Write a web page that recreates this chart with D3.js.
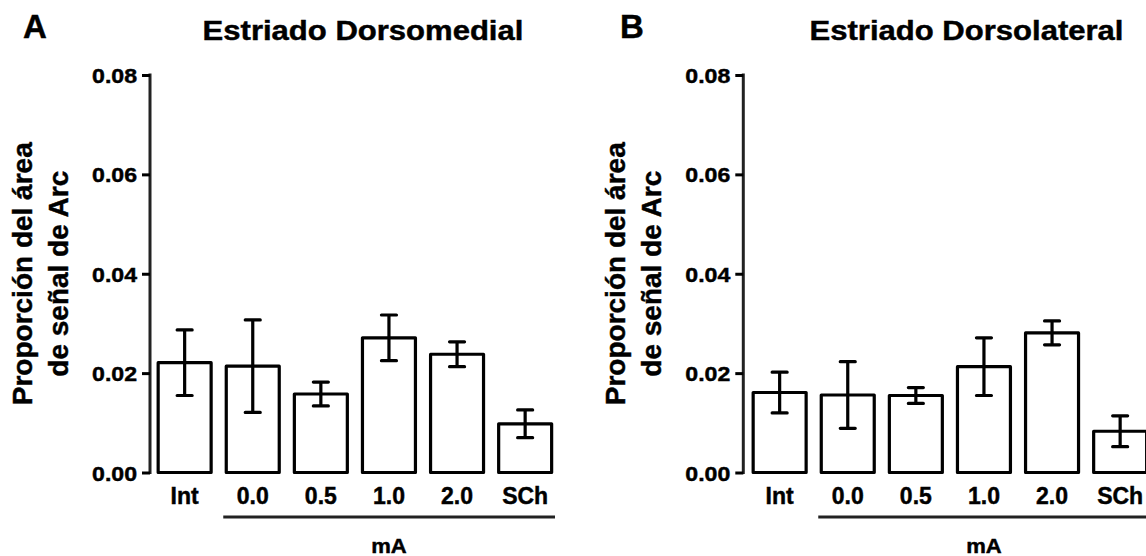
<!DOCTYPE html>
<html>
<head>
<meta charset="utf-8">
<script src="https://cdn.jsdelivr.net/npm/d3@7/dist/d3.min.js"></script>
<style>
  html, body { margin: 0; padding: 0; background: #fff; }
  svg { display: block; }
  text { font-family: "Liberation Sans", Arial, sans-serif; font-weight: bold; fill: #000; stroke: #000; stroke-width: 0.45px; }
</style>
</head>
<body>
<svg id="chart" width="1146" height="556"></svg>
<script>
// ---------------- data ----------------
const categories = ["Int", "0.0", "0.5", "1.0", "2.0", "SCh"];
const dorsomedialMean = [0.0221, 0.0214, 0.0158, 0.0271, 0.0238, 0.0098];
const dorsomedialSem  = [0.0066, 0.0093, 0.0024, 0.0046, 0.0025, 0.0028];
const dorsolateralMean = [0.0161, 0.0156, 0.0155, 0.0213, 0.0281, 0.0083];
const dorsolateralSem  = [0.0041, 0.0067, 0.0016, 0.0058, 0.0024, 0.0031];
const yTicks = [0.00, 0.02, 0.04, 0.06, 0.08];
const panelLetters = ["A", "B"];
const panelTitles = ["Estriado Dorsomedial", "Estriado Dorsolateral"];
const yLabelLines = ["Proporción del área", "de señal de Arc"];
const groupLabel = "mA";
const groupCategories = ["0.0", "0.5", "1.0", "2.0", "SCh"];

// ---------------- layout ----------------
const svg = d3.select("#chart");
const panels = [
  { axisX: 150,   bandX0: 150.6, letterX: 35,  titleX: 363,   lineEnd: 555,  mean: dorsomedialMean, sem: dorsomedialSem },
  { axisX: 743.3, bandX0: 745.6, letterX: 632, titleX: 966.5, lineEnd: 1150, mean: dorsolateralMean, sem: dorsolateralSem }
];
const step = 68.1;
const y = d3.scaleLinear().domain([0, 0.08]).range([472.5, 75]);
const fmt = d3.format(".2f");

function stretchedText(g, x, yPos, txt, size, sx, anchor, rotate) {
  return g.append("text")
    .attr("transform", `translate(${x},${yPos})` + (rotate ? ` rotate(${rotate})` : "") + ` scale(${sx},1)`)
    .attr("text-anchor", anchor || "middle")
    .style("font-size", size + "px")
    .text(txt);
}

panels.forEach((p, i) => {
  const g = svg.append("g");
  const x = d3.scaleBand()
    .domain(categories)
    .range([p.bandX0, p.bandX0 + step * categories.length])
    .paddingInner(0.222)
    .paddingOuter(0.111);

  // panel letter & title
  stretchedText(g, p.letterX, 38, panelLetters[i], 33, 1.0, "middle");
  stretchedText(g, p.titleX, 40, panelTitles[i], 27, 1.15, "middle");

  // y axis
  const yAxis = d3.axisLeft(y).tickValues(yTicks).tickFormat(fmt).tickSizeInner(8).tickSizeOuter(0).tickPadding(5);
  const ya = g.append("g").attr("transform", `translate(${p.axisX},0)`).call(yAxis);
  ya.select(".domain").attr("stroke", "#222").attr("stroke-width", 3).attr("d", `M0,${y(0.08) - 1.5}V${y(0) + 1.5}`);
  ya.selectAll(".tick line").attr("stroke", "#000").attr("stroke-width", 3);
  ya.selectAll(".tick text").each(function () {
    d3.select(this)
      .attr("x", null).attr("dy", null)
      .attr("transform", `translate(-13,7.5) scale(1.1,1)`)
      .attr("text-anchor", "end")
      .style("font-size", "21px")
      .style("font-family", '"Liberation Sans", Arial, sans-serif')
      .style("font-weight", "bold")
      .attr("fill", "#000");
  });

  // y axis title (two lines, rotated)
  const midY = (y(0) + y(0.08)) / 2;
  yLabelLines.forEach((line, k) => {
    stretchedText(g, p.axisX - 118 + k * 36, midY, line, 28, 1.0, "middle", -90);
  });

  // bars
  g.selectAll("rect.bar").data(categories).enter().append("rect")
    .attr("class", "bar")
    .attr("x", d => x(d))
    .attr("width", x.bandwidth())
    .attr("y", (d, j) => y(p.mean[j]))
    .attr("height", (d, j) => y(0) - y(p.mean[j]))
    .attr("fill", "#fff")
    .attr("stroke", "#000")
    .attr("stroke-width", 3.2)
    .attr("stroke-linejoin", "round");

  // error bars
  const capHalf = 7.5;
  categories.forEach((c, j) => {
    const cx = x(c) + x.bandwidth() / 2;
    const hi = y(p.mean[j] + p.sem[j]);
    const lo = y(p.mean[j] - p.sem[j]);
    const path = d3.path();
    path.moveTo(cx, hi); path.lineTo(cx, lo);
    path.moveTo(cx - capHalf, hi); path.lineTo(cx + capHalf, hi);
    path.moveTo(cx - capHalf, lo); path.lineTo(cx + capHalf, lo);
    g.append("path").attr("d", path.toString())
      .attr("fill", "none").attr("stroke", "#000").attr("stroke-width", 3.2).attr("stroke-linecap", "round");
  });

  // x tick labels
  categories.forEach(c => {
    stretchedText(g, x(c) + x.bandwidth() / 2, 503.5, c, 23, 1.0, "middle");
  });

  // group line and label
  const gx0 = x(groupCategories[0]) - 3;
  g.append("line")
    .attr("x1", gx0).attr("x2", p.lineEnd)
    .attr("y1", 517).attr("y2", 517)
    .attr("stroke", "#222").attr("stroke-width", 3);
  const gMid = (x(groupCategories[0]) + x(groupCategories[groupCategories.length - 1]) + x.bandwidth()) / 2;
  stretchedText(g, gMid, 552.5, groupLabel, 21, 1.05, "middle");
});
</script>
</body>
</html>
